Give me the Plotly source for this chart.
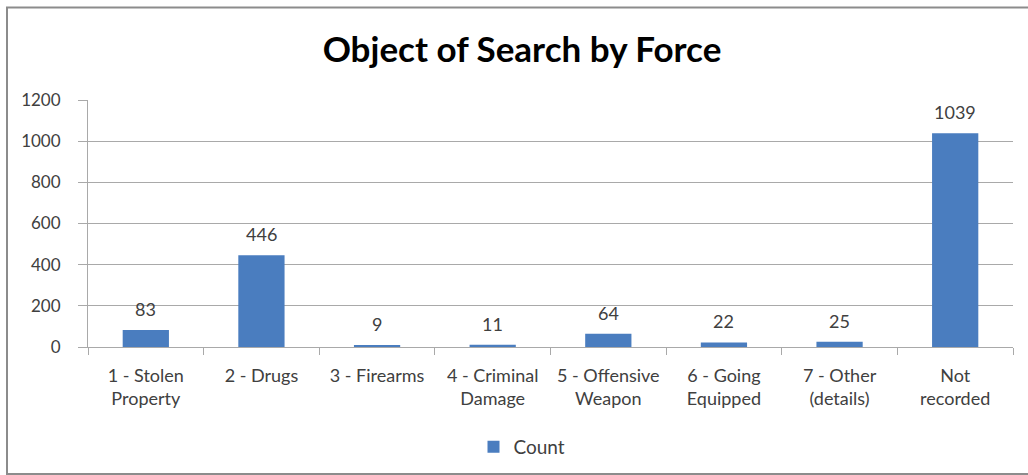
import plotly.graph_objects as go

# Search object categories and counts
categories = [
    "1 - Stolen<br>Property",
    "2 - Drugs",
    "3 - Firearms",
    "4 - Criminal<br>Damage",
    "5 - Offensive<br>Weapon",
    "6 - Going<br>Equipped",
    "7 - Other<br>(details)",
    "Not<br>recorded",
]
counts = [83, 446, 9, 11, 64, 22, 25, 1039]
y_ticks = [0, 200, 400, 600, 800, 1000, 1200]

FONT = "Lato, 'Open Sans', sans-serif"
BAR_COLOR = "#4A7DBF"
GRID = "#a9a9a9"
TEXT = "#404040"

W, H = 1028, 475
L, R, T, B = 88, 15, 100, 128

fig = go.Figure()
fig.add_trace(go.Bar(
    x=categories,
    y=counts,
    name="Count",
    marker=dict(color=BAR_COLOR, line=dict(width=0)),
    showlegend=True,
))

# Value labels sitting above each bar
for cat, val in zip(categories, counts):
    fig.add_annotation(
        x=cat, y=val, text=str(val), showarrow=False,
        yanchor="middle", yshift=21,
        font=dict(family=FONT, size=18, color=TEXT),
    )

# Chart frame (pixel coordinates converted to paper units)
pw, ph = W - L - R, H - T - B
def px_x(v):
    return (v - L) / pw
def px_y(v):
    return (H - B - v) / ph

fig.add_shape(
    type="rect", xref="paper", yref="paper",
    x0=px_x(7), x1=px_x(W + 5), y0=px_y(474), y1=px_y(7.5),
    line=dict(color="#8c8c8c", width=2), fillcolor="rgba(0,0,0,0)",
    layer="below",
)

fig.update_layout(
    width=W, height=H,
    margin=dict(l=L, r=R, t=T, b=B, autoexpand=False),
    paper_bgcolor="white",
    plot_bgcolor="white",
    bargap=0.6,
    font=dict(family=FONT, size=17, color=TEXT),
    title=dict(
        text="<b>Object of Search by Force</b>",
        x=522 / W, xref="container", xanchor="center",
        y=1 - 50 / H, yref="container", yanchor="middle",
        font=dict(family=FONT, size=35, color="#000000"),
    ),
    legend=dict(
        orientation="h",
        x=522 / W, xref="container", xanchor="center",
        y=1 - 447 / H, yref="container", yanchor="middle",
        font=dict(family=FONT, size=19, color=TEXT),
        itemwidth=30,
    ),
    xaxis=dict(
        type="category",
        tickson="boundaries",
        tickangle=0,
        ticks="outside", ticklen=7, tickcolor=GRID,
        showline=True, linecolor=GRID, linewidth=1,
        showgrid=False,
        tickfont=dict(family=FONT, size=18, color=TEXT),
        ticklabelstandoff=12,
    ),
    yaxis=dict(
        range=[0, 1200],
        tickvals=y_ticks,
        ticks="outside", ticklen=9, tickcolor=GRID,
        showline=True, linecolor=GRID, linewidth=1,
        showgrid=True, gridcolor=GRID, gridwidth=1,
        zeroline=False,
        tickfont=dict(family=FONT, size=17, color=TEXT),
        ticklabelstandoff=14,
    ),
)

fig.write_html("out.html")
